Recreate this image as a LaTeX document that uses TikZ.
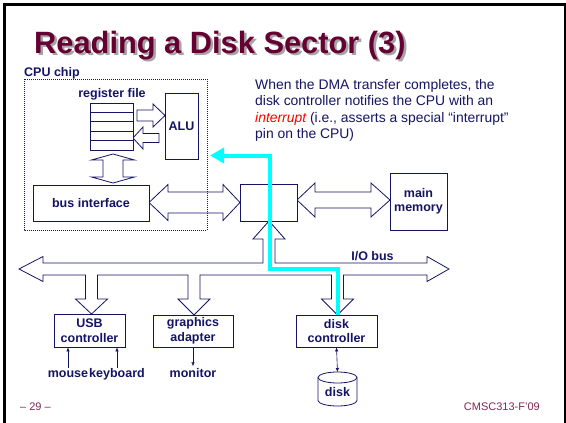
\documentclass[tikz,border=0pt]{standalone}
\usepackage{fontspec}
\setmainfont{Liberation Sans}
\usepackage{xcolor}
\usetikzlibrary{arrows.meta}

\definecolor{navy}{RGB}{20,20,100}
\definecolor{titlered}{RGB}{102,0,51}
\definecolor{footred}{RGB}{128,40,82}
\definecolor{shadowgray}{RGB}{165,165,165}
\definecolor{irq}{RGB}{0,255,255}

\tikzset{
  unitbox/.style={draw=navy, line width=0.8pt, fill=white, text=navy, align=center,
    inner sep=0pt, font=\bfseries\fontsize{12.5}{14.5}\selectfont},
  regcell/.style={draw=navy, line width=0.8pt, fill=white, inner sep=0pt,
    minimum width=43pt, minimum height=9.4pt},
  lbl/.style={text=navy, inner sep=0pt, text height=9pt,
    font=\bfseries\fontsize{12.5}{14.5}\selectfont},
  fatarrow/.style={draw=navy, line width=0.8pt, fill=white, line join=miter},
  thinarrow/.style={draw=navy, line width=0.6pt, -{Latex[length=4pt,width=3.5pt]}},
  irqpath/.style={draw=irq, line width=4pt, -{Triangle[length=14pt,width=15pt]}}
}
\newcommand{\titletext}{Reading a Disk Sector (3)}

\begin{document}
\begin{tikzpicture}[x=1pt,y=-1pt]
    \useasboundingbox (0,0) rectangle (566,423);
    \draw[line width=2.5pt] (4.5,4.5) rectangle (564.8,440);

    % title and footer
    \node[anchor=base west, inner sep=0pt, text=titlered, font=\bfseries\fontsize{30.8}{34}\selectfont] (title) at (34,53)
      {\makebox[0pt][l]{\hspace{2.5pt}\raisebox{-2.5pt}{\color{shadowgray}\titletext}}\titletext};
    \node[anchor=base west, inner sep=0pt, text=footred, font=\fontsize{11}{13}\selectfont] (pagenum) at (20,410) {– 29 –};
    \node[anchor=base east, inner sep=0pt, text=footred, font=\fontsize{11}{13}\selectfont] (course) at (540,410) {CMSC313-F’09};

    % note
    \node[anchor=north west, inner sep=0pt, text=navy, align=left, font=\fontsize{13.9}{16.3}\selectfont] (note) at (255,79.3)
      {When the DMA transfer completes, the\\disk controller notifies the CPU with an\\\textcolor{red}{\itshape interrupt} (i.e., asserts a special “interrupt”\\pin on the CPU)};

    % fat arrows
    \draw[fatarrow] (137,110) -- (153,110) -- (153,104) -- (165,115.5) -- (153,127) -- (153,121) -- (137,121) -- cycle;
    \draw[fatarrow] (159,133.5) -- (143,133.5) -- (143,127) -- (133,138) -- (143,149) -- (143,142.5) -- (159,142.5) -- cycle;
    \draw[fatarrow] (113,154) -- (134.5,160) -- (123,160) -- (123,177) -- (134.5,177) -- (113,183) -- (91.5,177) -- (103,177) -- (103,160) -- (91.5,160) -- cycle;
    \draw[fatarrow] (149,202.5) -- (168,184.5) -- (168,192) -- (223,192) -- (223,184.5) -- (240,202.5) -- (223,220.5) -- (223,213) -- (168,213) -- (168,220.5) -- cycle;
    \draw[fatarrow] (297,200) -- (315,183) -- (315,192) -- (371,192) -- (371,183) -- (390,200) -- (371,217) -- (371,208) -- (315,208) -- (315,217) -- cycle;
    % I/O bus
    \draw[fatarrow] (19,269) -- (43,256.5) -- (43,263) -- (263,263) -- (263,239) -- (253,239) -- (269,221) -- (285,239) -- (275,239) -- (275,263)
      -- (427,263) -- (427,256.5) -- (449,269) -- (427,281.5) -- (427,275)
      -- (343.5,275) -- (343.5,299) -- (353.5,299) -- (337.5,315) -- (321.5,299) -- (331.5,299) -- (331.5,275)
      -- (200,275) -- (200,299) -- (210,299) -- (194,315) -- (178,299) -- (188,299) -- (188,275)
      -- (97.5,275) -- (97.5,299) -- (107.5,299) -- (91.5,314) -- (75.5,299) -- (85.5,299) -- (85.5,275)
      -- (43,275) -- (43,281.5) -- cycle;
    \node[lbl, anchor=base] (iobus) at (372.5,260) {I/O bus};

    % CPU chip
    \draw[navy, line width=0.6pt, dash pattern=on 1pt off 1pt] (24,79) rectangle (207,230);
    \node[lbl, anchor=base west] (cpulbl) at (24,76) {CPU chip};
    \node[lbl, anchor=base] (reglbl) at (112,97.5) {register file};
    \foreach \i in {1,...,5}
      \node[regcell] (reg\i) at (111.5, 98.3+9.4*\i) {};
    \node[unitbox, minimum width=33pt, minimum height=66pt] (alu) at (181.5,126) {ALU};
    \node[unitbox, minimum width=116pt, minimum height=36pt] (busif) at (91,203) {bus interface};

    % bridge and memory
    \node[unitbox, minimum width=57pt, minimum height=37pt] (bridge) at (268.5,202.5) {};
    \node[unitbox, minimum width=57pt, minimum height=57pt] (mem) at (418.5,201.5) {main\\memory};

    % I/O devices
    \node[unitbox, minimum width=71pt, minimum height=33pt] (usb) at (89.5,330.5) {USB\\controller};
    \node[unitbox, minimum width=80pt, minimum height=32pt] (gfx) at (193,331) {graphics\\adapter};
    \node[unitbox, minimum width=81pt, minimum height=32pt] (diskctl) at (336.5,331) {disk\\controller};

    \node[lbl, anchor=base] (mouse) at (68,377) {mouse};
    \node[lbl, anchor=base] (keyboard) at (117,377) {keyboard};
    \node[lbl, anchor=base] (monitor) at (193,377) {monitor};
    \draw[thinarrow] (mouse.north) -- (mouse.north |- usb.south);
    \draw[thinarrow] (keyboard.north) -- (keyboard.north |- usb.south);
    \draw[thinarrow, shorten >=1.5pt] (gfx.south) -- (gfx.south |- monitor.north);

    % disk
    \draw[navy, line width=0.8pt, fill=white] (318,377.5) -- (318,400.5) arc[start angle=180, end angle=360, x radius=19.5pt, y radius=5.5pt] -- (357,377.5);
    \draw[navy, line width=0.8pt, fill=white] (337.5,377.5) ellipse [x radius=19.5pt, y radius=5.5pt];
    \coordinate (disktop) at (337.5,372);
    \node[lbl, anchor=base] (disk) at (337.5,396) {disk};
    \draw[thinarrow, {Latex[length=4pt,width=3.5pt]}-{Latex[length=4pt,width=3.5pt]}] (diskctl.south) -- (disktop);

    % interrupt
    \draw[irqpath] (diskctl.north -| 337.5,0) |- (270,269) |- (210,155.5);
\end{tikzpicture}
\end{document}
